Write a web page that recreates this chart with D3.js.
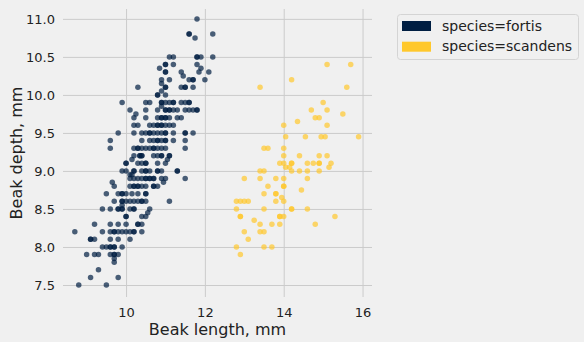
<!DOCTYPE html>
<html>
<head>
<meta charset="utf-8">
<script src="https://cdn.jsdelivr.net/npm/d3@7"></script>
<style>
  html, body { margin: 0; padding: 0; background: #f0f0f0; }
  svg { display: block; font-family: "DejaVu Sans", sans-serif; }
</style>
</head>
<body>
<svg id="chart" width="584" height="342"></svg>
<script>
// ---- data ----
const fortisLength = [
  11.8, 11.6, 11.6, 11.75, 12.2,
  11.1, 11.2, 11.8, 11.8, 11.9, 12.2,
  11.0, 11.0, 11.2, 11.8, 11.9, 11.85, 10.85,
  11.0, 11.0, 11.4, 11.45, 12.1, 10.3,
  11.1, 11.6, 11.7, 11.7, 12.0, 10.9, 10.9,
  11.0, 11.0, 10.9, 11.4, 11.5, 11.5, 11.7,
  10.8, 10.8, 11.0, 9.9,
  10.5, 10.6, 10.9, 10.9, 11.0, 11.1, 11.2, 11.2, 11.4, 11.5, 11.6, 11.6, 10.9,
  10.1, 10.5, 10.8, 11.0, 11.0, 11.1, 11.1, 11.2, 11.3, 11.5, 11.6, 11.7, 11.8, 11.8, 10.25,
  10.2, 10.5, 10.8, 10.9, 10.9, 11.0, 11.0, 11.1, 11.3, 11.4,
  10.2, 10.3, 10.6, 10.7, 10.8, 10.8, 10.9, 10.9, 11.0, 11.1, 11.2,
  9.8, 10.2, 10.4, 10.5, 10.6, 10.6, 10.7, 10.8, 10.9, 11.0, 11.0, 11.2, 11.5, 11.5, 11.7,
  9.6, 10.4, 10.6, 10.7, 10.8, 10.8, 10.9, 11.0, 11.0, 11.2, 11.5,
  9.6, 10.2, 10.3, 10.3, 10.4, 10.5, 10.6, 10.7, 10.7, 10.8, 10.9, 11.0, 11.5,
  10.15, 10.2, 10.35, 10.35,
  10.4, 10.4, 10.7, 10.8, 10.9, 10.9, 11.1, 11.1, 11.05, 11.0,
  10.0, 10.0, 10.3, 10.4, 10.5, 10.5, 10.8,
  9.9, 10.0, 10.2, 10.2, 10.4, 10.5, 10.5, 10.6, 10.8, 10.8, 10.9, 11.3, 11.3,
  10.1, 10.15,
  10.1, 10.2, 10.3, 10.4, 10.5, 10.5, 10.6, 10.6, 10.7, 10.7, 10.9, 11.0, 11.5,
  10.95, 9.65,
  9.7, 10.1, 10.2, 10.2, 10.3, 10.3, 10.4, 10.5, 10.7, 10.7, 10.8,
  9.5, 9.8, 9.9, 9.9, 10.0, 10.15, 10.3, 10.5, 10.5,
  9.7, 9.9, 9.9, 10.0, 10.1, 10.2, 10.3, 10.4, 10.4, 10.5, 11.1,
  9.9,
  9.4, 9.6, 9.8, 9.8, 9.9, 9.9, 10.1, 10.2, 10.2, 10.6,
  10.55,
  10.0, 10.0, 10.4, 10.5,
  9.2, 9.6, 9.8, 10.0, 10.3, 10.3, 10.4,
  8.7, 9.4, 9.6, 9.7, 9.7, 9.8, 9.9, 10.0, 10.1, 10.2, 10.2, 10.4,
  9.1, 9.1, 9.2, 9.6, 9.8, 10.1,
  9.4, 9.5, 9.6, 9.6, 9.7, 9.7, 9.9,
  9.0, 9.2, 9.3, 9.6, 9.7, 9.7, 9.8,
  9.7, 9.7, 9.3, 9.1, 9.8, 8.8, 9.5
];
const fortisDepth = [
  11.0, 10.8, 10.8, 10.75, 10.8,
  10.5, 10.5, 10.5, 10.5, 10.5, 10.5,
  10.4, 10.4, 10.4, 10.4, 10.35, 10.3, 10.35,
  10.3, 10.3, 10.3, 10.25, 10.3, 10.1,
  10.2, 10.2, 10.2, 10.2, 10.2, 10.2, 10.15,
  10.1, 10.1, 10.05, 10.1, 10.1, 10.1, 10.1,
  10.0, 10.0, 10.0, 9.9,
  9.9, 9.9, 9.9, 9.9, 9.9, 9.9, 9.9, 9.9, 9.9, 9.9, 9.9, 9.9, 9.85,
  9.8, 9.8, 9.8, 9.8, 9.8, 9.8, 9.8, 9.8, 9.8, 9.8, 9.8, 9.8, 9.8, 9.8, 9.75,
  9.7, 9.7, 9.7, 9.7, 9.7, 9.7, 9.7, 9.7, 9.7, 9.7,
  9.6, 9.6, 9.6, 9.6, 9.6, 9.6, 9.6, 9.6, 9.6, 9.6, 9.6,
  9.5, 9.5, 9.5, 9.5, 9.5, 9.5, 9.5, 9.5, 9.5, 9.5, 9.5, 9.5, 9.5, 9.5, 9.5,
  9.4, 9.4, 9.4, 9.4, 9.4, 9.4, 9.4, 9.4, 9.4, 9.4, 9.4,
  9.3, 9.3, 9.3, 9.3, 9.3, 9.3, 9.3, 9.3, 9.3, 9.3, 9.3, 9.3, 9.3,
  9.15, 9.2, 9.2, 9.2,
  9.2, 9.2, 9.2, 9.2, 9.2, 9.2, 9.2, 9.2, 9.15, 9.1,
  9.1, 9.1, 9.1, 9.1, 9.1, 9.1, 9.1,
  9.0, 9.0, 9.0, 9.0, 9.0, 9.0, 9.0, 9.0, 9.0, 9.0, 9.0, 9.0, 9.0,
  8.95, 8.95,
  8.9, 8.9, 8.9, 8.9, 8.9, 8.9, 8.9, 8.9, 8.9, 8.9, 8.9, 8.9, 8.9,
  8.85, 8.85,
  8.8, 8.8, 8.8, 8.8, 8.8, 8.8, 8.8, 8.8, 8.8, 8.8, 8.8,
  8.7, 8.7, 8.7, 8.7, 8.7, 8.7, 8.7, 8.7, 8.7,
  8.6, 8.6, 8.6, 8.6, 8.6, 8.6, 8.6, 8.6, 8.6, 8.6, 8.6,
  8.55,
  8.5, 8.5, 8.5, 8.5, 8.5, 8.5, 8.5, 8.5, 8.5, 8.5,
  8.45,
  8.4, 8.4, 8.4, 8.4,
  8.3, 8.3, 8.3, 8.3, 8.3, 8.3, 8.3,
  8.2, 8.2, 8.2, 8.2, 8.2, 8.2, 8.2, 8.2, 8.2, 8.2, 8.2, 8.2,
  8.1, 8.1, 8.1, 8.1, 8.1, 8.1,
  8.0, 8.0, 8.0, 8.0, 8.0, 8.0, 8.0,
  7.9, 7.9, 7.9, 7.9, 7.9, 7.9, 7.9,
  7.85, 7.8, 7.7, 7.6, 7.6, 7.5, 7.5
];
const scandensLength = [
  14.2, 13.4, 14.35, 14.0, 14.05, 13.5, 13.6, 14.0, 14.0, 13.9, 14.0, 14.2, 14.2,
  14.05, 14.15, 14.2, 13.4, 13.5, 13.0, 13.4, 13.8, 14.0, 14.0, 14.0, 13.6,
  13.5, 13.8, 13.8, 13.95, 14.0, 13.8, 12.8, 12.9, 13.0, 13.1, 12.8, 13.5,
  14.2, 14.2, 12.9, 12.9, 13.9, 13.9, 14.0, 13.25, 13.4, 13.7, 13.9, 13.0,
  13.4, 13.5, 13.1, 12.8, 13.5, 13.7, 12.9,
  15.1, 15.7, 15.6, 15.0, 14.7, 15.1, 15.5, 14.8, 14.9, 15.1, 14.55, 14.95,
  15.05, 15.9, 14.4, 14.9, 15.1, 14.6, 14.75, 14.9, 14.9, 15.2, 15.15, 14.4,
  14.6, 14.9, 14.6, 14.45, 14.6, 15.3, 14.8
];
const scandensDepth = [
  10.2, 10.1, 9.65, 9.6, 9.45, 9.3, 9.3, 9.3, 9.2, 9.1, 9.1, 9.1, 9.1,
  9.05, 9.05, 9.0, 9.0, 9.0, 8.9, 8.9, 8.9, 8.9, 8.8, 8.8, 8.8,
  8.7, 8.7, 8.7, 8.65, 8.6, 8.6, 8.6, 8.6, 8.6, 8.6, 8.5, 8.5,
  8.5, 8.5, 8.4, 8.4, 8.4, 8.4, 8.4, 8.35, 8.3, 8.3, 8.3, 8.2,
  8.2, 8.2, 8.1, 8.0, 8.0, 8.0, 7.9,
  10.4, 10.4, 10.1, 9.9, 9.8, 9.8, 9.75, 9.7, 9.7, 9.6, 9.45, 9.45,
  9.45, 9.45, 9.2, 9.2, 9.2, 9.1, 9.1, 9.1, 9.1, 9.1, 9.05, 9.0,
  9.0, 9.0, 8.9, 8.75, 8.5, 8.4, 8.3
];
const seriesNames = ["species=fortis", "species=scandens"];
const seriesColors = ["#001e42", "#ffc82c"];
const xTicks = [10, 12, 14, 16];
const yTicks = [7.5, 8.0, 8.5, 9.0, 9.5, 10.0, 10.5, 11.0];
const xLabel = "Beak length, mm";
const yLabel = "Beak depth, mm";

// ---- chart ----
const svg = d3.select("#chart");
const W = 584, H = 342;
const plot = { left: 63, right: 372, top: 9, bottom: 297 };

svg.append("rect").attr("width", W).attr("height", H).attr("fill", "#f0f0f0");

const x = d3.scaleLinear().domain([8.40, 16.24]).range([plot.left, plot.right]);
const y = d3.scaleLinear().domain([7.342, 11.13]).range([plot.bottom, plot.top]);

// grid
const xAxis = d3.axisBottom(x).tickValues(xTicks).tickSize(-(plot.bottom - plot.top)).tickPadding(9).tickFormat(d3.format("d"));
const yAxis = d3.axisLeft(y).tickValues(yTicks).tickSize(-(plot.right - plot.left)).tickPadding(8).tickFormat(d3.format(".1f"));

const gx = svg.append("g").attr("transform", `translate(0,${plot.bottom})`).call(xAxis);
const gy = svg.append("g").attr("transform", `translate(${plot.left},0)`).call(yAxis);
[gx, gy].forEach(g => {
  g.select(".domain").remove();
  g.selectAll(".tick line").attr("stroke", "#cbcbcb").attr("stroke-width", 1);
  g.selectAll(".tick text").attr("fill", "#222").style("font-size", "13px").style("font-family", "DejaVu Sans");
});
gx.selectAll(".tick text").attr("dy", null).attr("y", 20);

// points
const fortis = fortisLength.map((l, i) => ({ l, d: fortisDepth[i] }));
const scandens = scandensLength.map((l, i) => ({ l, d: scandensDepth[i] }));
[fortis, scandens].forEach((data, k) => {
  svg.append("g").selectAll("circle").data(data).join("circle")
    .attr("cx", d => x(d.l)).attr("cy", d => y(d.d)).attr("r", 2.75)
    .attr("fill", seriesColors[k]).attr("fill-opacity", 0.7);
});

// axis labels
svg.append("text").attr("x", (plot.left + plot.right) / 2).attr("y", 335)
  .attr("text-anchor", "middle").style("font-size", "16px").attr("fill", "#222").text(xLabel);
svg.append("text").attr("transform", `translate(22,${(plot.top + plot.bottom) / 2}) rotate(-90)`)
  .attr("text-anchor", "middle").style("font-size", "16px").attr("fill", "#222").text(yLabel);

// legend
const lg = svg.append("g");
lg.append("rect").attr("x", 397.5).attr("y", 14.5).attr("width", 181).attr("height", 45).attr("rx", 3)
  .attr("fill", "#f0f0f0").attr("stroke", "#d4d4d4");
seriesNames.forEach((name, i) => {
  lg.append("rect").attr("x", 402).attr("y", 21 + i * 20.7).attr("width", 29).attr("height", 10).attr("fill", seriesColors[i]);
  lg.append("text").attr("x", 442).attr("y", 30.5 + i * 20.7).style("font-size", "14px").attr("fill", "#222").text(name);
});
</script>
</body>
</html>
